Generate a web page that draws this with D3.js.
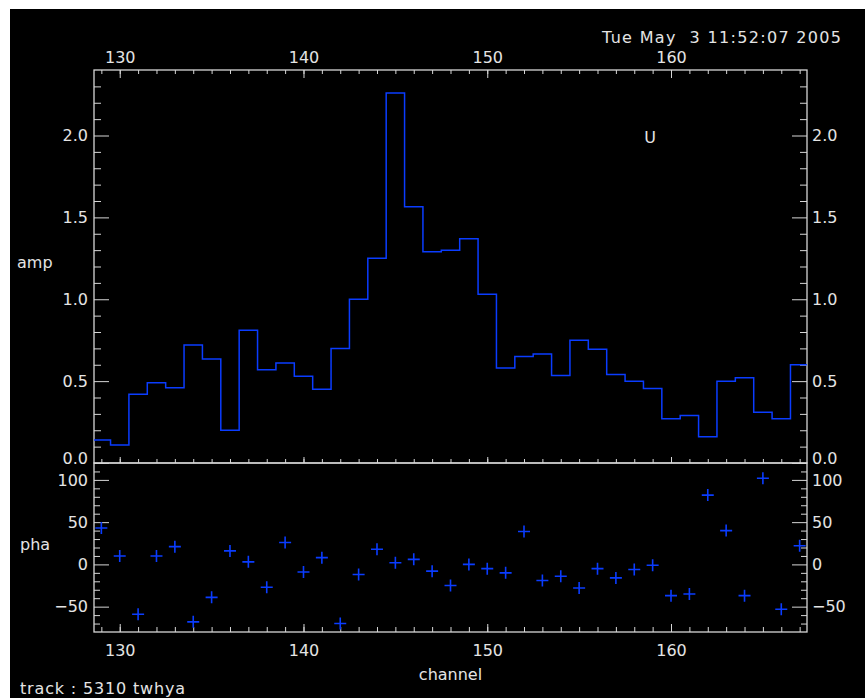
<!DOCTYPE html>
<html><head><meta charset="utf-8">
<script src="https://cdn.jsdelivr.net/npm/d3@7"></script>
<style>
body{margin:0;background:#fff}
svg{display:block}
text{font-family:"DejaVu Sans",sans-serif;font-size:16px;fill:#e4e4e4}
</style>
</head><body><svg id="c" width="865" height="698"></svg>
<script>
// ---- data ----
const channels = [129,130,131,132,133,134,135,136,137,138,139,140,141,142,143,144,145,146,147,148,
                  149,150,151,152,153,154,155,156,157,158,159,160,161,162,163,164,165,166,167];
const amp = [0.14,0.11,0.42,0.49,0.46,0.72,0.635,0.20,0.81,0.57,0.61,0.53,0.45,0.70,1.00,1.25,2.26,1.565,1.29,1.30,
             1.37,1.03,0.58,0.65,0.665,0.535,0.75,0.695,0.54,0.50,0.455,0.27,0.29,0.16,0.50,0.52,0.31,0.27,0.60];
const pha = [43,10,-59,10,21,-68,-39,16,3,-27,26,-9,8,-70,-12,18,2,6,-8,-25,
             0,-5,-10,39,-19,-14,-28,-5,-16,-6,-1,-37,-35,82,40,-37,102,-53,22];
const xTickValues = [130,140,150,160];
const ampTicks = [0.0,0.5,1.0,1.5,2.0];
const ampMinor = [0.1,0.2,0.3,0.4,0.6,0.7,0.8,0.9,1.1,1.2,1.3,1.4,1.6,1.7,1.8,1.9,2.1,2.2,2.3];
const phaTicks = [-50,0,50,100];
const phaMinor = [-70,-60,-40,-30,-20,-10,10,20,30,40,60,70,80,90,110];
const dateText = "Tue May  3 11:52:07 2005";
const trackText = "track : 5310 twhya";

// ---- layout ----
const L = 94, R = 807, T = 70, MID = 463, B = 632;
const AX = "#d6d6d6", BLUE = "#0a3cff";

const svg = d3.select("#c");
svg.append("rect").attr("x",10).attr("y",9).attr("width",855).attr("height",689).attr("fill","#000");

const x = d3.scaleLinear().domain([128.6,167.4]).range([L,R]);
const yA = d3.scaleLinear().domain([0,2.4]).range([MID,T]);
const yP = d3.scaleLinear().domain([-80,120]).range([B,MID]);

function styleAxis(g){
  g.select(".domain").remove();
  g.selectAll(".tick line").attr("stroke",AX).attr("stroke-width",1);
  g.selectAll(".tick text").attr("fill","#e4e4e4").attr("font-family",'"DejaVu Sans",sans-serif').attr("font-size",16);
}
function add(axis, tx, ty){
  const g = svg.append("g").attr("transform",`translate(${tx},${ty})`).call(axis);
  styleAxis(g); return g;
}

// top axis
add(d3.axisTop(x).tickValues(channels).tickSize(-4).tickFormat(""),0,T);
add(d3.axisTop(x).tickValues(xTickValues).tickSize(-8).tickPadding(7).tickFormat(d3.format("d")),0,T);
// divider axis (upper panel bottom)
add(d3.axisBottom(x).tickValues(channels).tickSize(-4).tickFormat(""),0,MID);
add(d3.axisBottom(x).tickValues(xTickValues).tickSize(-6).tickFormat(""),0,MID);
// lower bottom axis
add(d3.axisBottom(x).tickValues(channels).tickSize(-5).tickFormat(""),0,B);
add(d3.axisBottom(x).tickValues(xTickValues).tickSize(-8).tickPadding(13).tickFormat(d3.format("d")),0,B);

// amp axes
const fmt1 = d3.format(".1f");
add(d3.axisLeft(yA).tickValues(ampMinor).tickSize(-7).tickFormat(""),L,0);
const gAL = add(d3.axisLeft(yA).tickValues(ampTicks).tickSize(-15).tickPadding(6).tickFormat(fmt1),L,0);
add(d3.axisRight(yA).tickValues(ampMinor).tickSize(-7).tickFormat(""),R,0);
const gAR = add(d3.axisRight(yA).tickValues(ampTicks).tickSize(-15).tickPadding(5).tickFormat(fmt1),R,0);
[gAL,gAR].forEach(g=>g.selectAll(".tick text").filter(d=>d===0).attr("y",-5));

// pha axes
add(d3.axisLeft(yP).tickValues(phaMinor).tickSize(-6).tickFormat(""),L,0);
add(d3.axisLeft(yP).tickValues(phaTicks).tickSize(-15).tickPadding(6).tickFormat(d3.format("d")),L,0);
add(d3.axisRight(yP).tickValues(phaMinor).tickSize(-6).tickFormat(""),R,0);
add(d3.axisRight(yP).tickValues(phaTicks).tickSize(-15).tickPadding(5).tickFormat(d3.format("d")),R,0);

// frames
svg.append("rect").attr("x",L).attr("y",T).attr("width",R-L).attr("height",MID-T)
  .attr("fill","none").attr("stroke",AX).attr("stroke-width",1.3);
svg.append("rect").attr("x",L).attr("y",MID).attr("width",R-L).attr("height",B-MID)
  .attr("fill","none").attr("stroke",AX).attr("stroke-width",1.3);

// step histogram
svg.append("clipPath").attr("id","clipA").append("rect")
  .attr("x",L).attr("y",T).attr("width",R-L).attr("height",MID-T);
const stepPts = channels.map((c,i)=>[c-0.5,amp[i]]);
stepPts.push([channels[channels.length-1]+0.5, amp[amp.length-1]]);
svg.append("path")
  .attr("clip-path","url(#clipA)")
  .attr("d", d3.line().x(d=>x(d[0])).y(d=>yA(d[1])).curve(d3.curveStepAfter)(stepPts))
  .attr("fill","none").attr("stroke",BLUE).attr("stroke-width",1.5);

// phase crosses
const gP = svg.append("g");
channels.forEach((c,i)=>{
  const cx = x(c), cy = yP(pha[i]), h = 6;
  gP.append("path").attr("d",`M${cx-h},${cy}H${cx+h}M${cx},${cy-h}V${cy+h}`)
    .attr("stroke",BLUE).attr("stroke-width",1.6).attr("fill","none");
});

// texts
svg.append("text").attr("x",602).attr("y",43).attr("textLength",239).attr("lengthAdjust","spacing")
  .style("white-space","pre").text(dateText);
svg.append("text").attr("x",650).attr("y",143).attr("text-anchor","middle").text("U");
svg.append("text").attr("x",17).attr("y",268).text("amp");
svg.append("text").attr("x",20).attr("y",550).text("pha");
svg.append("text").attr("x",(L+R)/2).attr("y",680).attr("text-anchor","middle").text("channel");
svg.append("text").attr("x",20).attr("y",694).attr("textLength",165).attr("lengthAdjust","spacing").text(trackText);
</script></body></html>
